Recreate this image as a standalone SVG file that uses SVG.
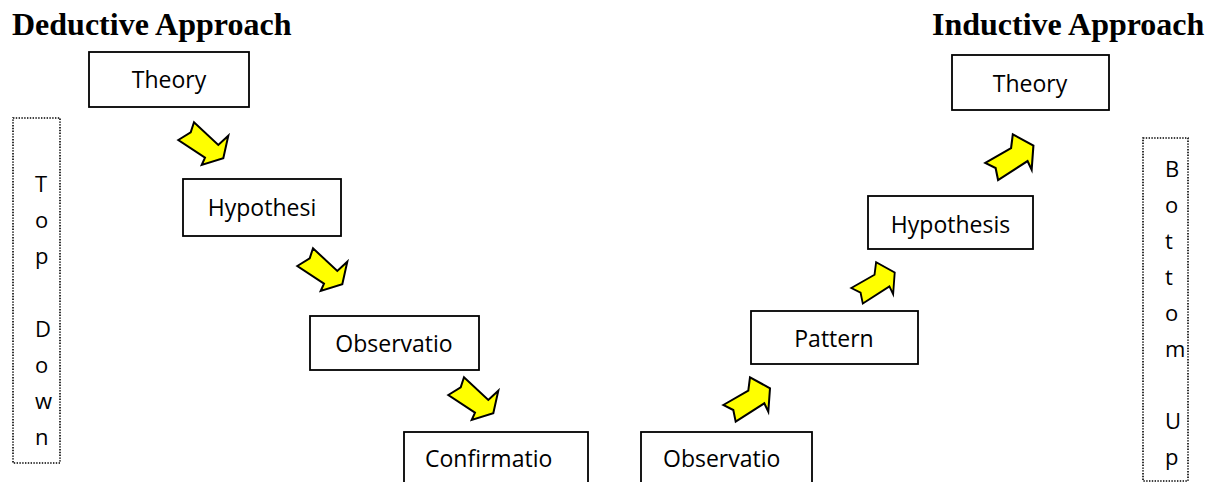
<svg xmlns="http://www.w3.org/2000/svg" width="1219" height="482" viewBox="0 0 1219 482">
<defs>
<style>
.title{font-family:"Liberation Serif","Times New Roman",serif;font-weight:bold;font-size:32px;fill:#000}
.box{fill:#fff;stroke:#000;stroke-width:1.8}
.lbl{font-family:"Open Sans","Noto Sans",sans-serif;font-size:23px;fill:#000}
.dot{fill:none;stroke:#000;stroke-width:1.6;stroke-dasharray:1.4 1.4}
.vt{font-family:"Open Sans","Noto Sans",sans-serif;font-size:22px;fill:#000}
.arr{fill:#ffff00;stroke:#000;stroke-width:2;stroke-linejoin:miter}
</style>
<path id="adown" d="M0.3,18 L12.7,10.3 L16,0.3 L40.3,23 L50.3,13.7 L45.3,36.3 L23.7,43 L27,35.7 Z"/>
<path id="aup" d="M0.3,28 L25.3,13.7 L27,0.3 L47,11.3 L45.3,34.7 L41.3,26.3 L12.7,44.7 L10.3,33 Z"/>
</defs>
<rect width="1219" height="482" fill="#fff"/>
<text class="title" x="12" y="35">Deductive Approach</text>
<text class="title" x="932" y="35">Inductive Approach</text>

<g id="topdown">
<rect class="dot" x="13" y="118" width="47" height="345"/>
<text class="vt" x="35" y="192">T</text>
<text class="vt" x="35" y="228">o</text>
<text class="vt" x="35" y="264">p</text>
<text class="vt" x="35" y="337">D</text>
<text class="vt" x="35" y="373">o</text>
<text class="vt" x="35" y="409">w</text>
<text class="vt" x="35" y="445">n</text>
</g>
<g id="bottomup">
<rect class="dot" x="1143" y="138" width="45" height="343"/>
<text class="vt" x="1165" y="177">B</text>
<text class="vt" x="1165" y="213">o</text>
<text class="vt" x="1165" y="249">t</text>
<text class="vt" x="1165" y="285">t</text>
<text class="vt" x="1165" y="321">o</text>
<text class="vt" x="1165" y="357">m</text>
<text class="vt" x="1165" y="429">U</text>
<text class="vt" x="1165" y="465">p</text>
</g>

<g id="d-theory"><rect class="box" x="89" y="52" width="160" height="55"/><text class="lbl" x="169" y="88" text-anchor="middle">Theory</text></g>
<g id="d-hypothesis"><rect class="box" x="183" y="179" width="158" height="57"/><text class="lbl" x="262" y="216" text-anchor="middle">Hypothesi</text></g>
<g id="d-observation"><rect class="box" x="310" y="316" width="169" height="54"/><text class="lbl" x="394" y="352" text-anchor="middle">Observatio</text></g>
<g id="d-confirmation"><rect class="box" x="404" y="432" width="184" height="60"/><text class="lbl" x="425" y="467">Confirmatio</text></g>

<g id="i-observation"><rect class="box" x="641" y="432" width="171" height="60"/><text class="lbl" x="663" y="467">Observatio</text></g>
<g id="i-pattern"><rect class="box" x="751" y="311" width="167" height="53"/><text class="lbl" x="834" y="347" text-anchor="middle">Pattern</text></g>
<g id="i-hypothesis"><rect class="box" x="868" y="196" width="165" height="53"/><text class="lbl" x="950.5" y="233" text-anchor="middle">Hypothesis</text></g>
<g id="i-theory"><rect class="box" x="952" y="55" width="157" height="55"/><text class="lbl" x="1030" y="92" text-anchor="middle">Theory</text></g>

<g id="connectors">
<use href="#adown" class="arr" transform="translate(178,122)"/>
<use href="#adown" class="arr" transform="translate(297,248)"/>
<use href="#adown" class="arr" transform="translate(448,377)"/>
<use href="#aup" class="arr" transform="translate(723,377)"/>
<use href="#aup" class="arr" transform="translate(851,262) scale(0.93)"/>
<use href="#aup" class="arr" transform="translate(985,134) scale(1.03)"/>
</g>
</svg>
